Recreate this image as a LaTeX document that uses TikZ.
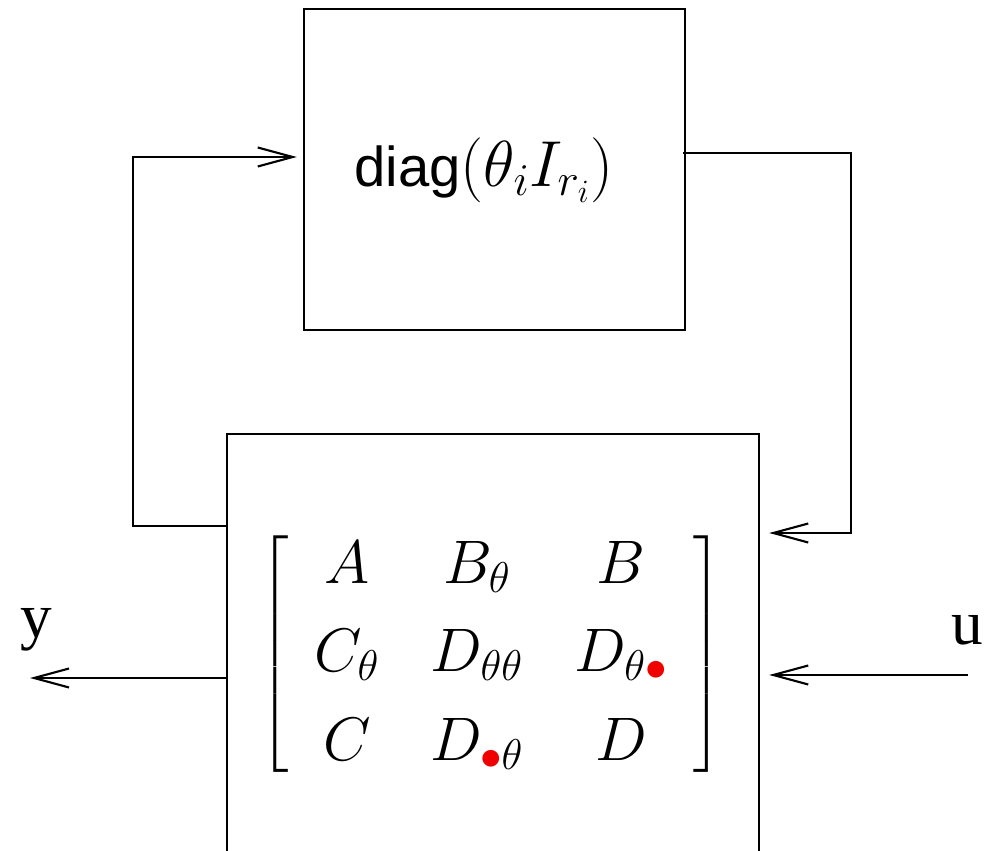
\RequirePackage{fix-cm}
\documentclass[tikz,border=0pt]{standalone}
\usepackage{exscale}
\usepackage{fontspec}
\usepackage{xcolor}
\usetikzlibrary{arrows.meta}
\newfontfamily\labelfont{Liberation Serif}
\newfontfamily\blocksans{Liberation Sans}
\definecolor{ink}{HTML}{000000}
\definecolor{dotRed}{HTML}{F00000}
\tikzset{
    blockbox/.style={
        draw=ink,
        line width=1.4pt,
        inner sep=0pt
    },
    signal/.style={
        -{Straight Barb[length=0.7cm, width=0.38cm]},
        draw=ink,
        line width=1.2pt
    },
    portlabel/.style={
        font=\labelfont\fontsize{36}{40}\selectfont,
        text=ink
    },
    blocklabel/.style={
        font=\fontsize{35}{40}\selectfont,
        text=ink
    }
}
\newcommand{\rdot}{{\color{dotRed}\bullet}}

\begin{document}
\begin{tikzpicture}[x=0.02cm,y=-0.02cm]
    \useasboundingbox (0,0) rectangle (985,851);
    \clip (0,0) rectangle (985,851);

    % Uncertainty block
    \node[blockbox, minimum width=381*0.02cm, minimum height=321*0.02cm]
        (delta) at (494.5,169.5) {};
    \node[blocklabel, font=\fontsize{37}{42}\selectfont] (deltatext) at (484,170)
        {{\blocksans\fontsize{32}{38}\selectfont diag}$(\theta_i I_{r_i})$};

    % Plant block, running past the lower edge
    \node[blockbox, minimum width=532*0.02cm, minimum height=520*0.02cm]
        (plant) at (493,694) {};
    \node[blocklabel, font=\fontsize{35}{50.5}\selectfont] (mat) at (491,654)
        {$\delimiterfactor=800 \delimitershortfall=40pt
        \setlength{\arraycolsep}{14.5pt}
        \left[\begin{array}{ccc}
            A & B_\theta & B\\
            C_\theta & D_{\theta\theta} & D_{\theta\rdot}\\
            C & D_{\rdot\theta} & D
        \end{array}\right]$};

    % Free ends of the outer signals
    \coordinate (yout) at (30,678);
    \coordinate (uin) at (968,675);
    \coordinate (fbL) at (133,526);
    \coordinate (fbR) at (851,533);

    % Feedback loop
    \draw[signal, shorten >=0.12cm] (plant.west |- fbL) -- (fbL) |- (delta.west |- 0,157);
    \draw[signal, shorten >=0.18cm] ([xshift=-0.06cm]delta.east |- 0,153) -| (fbR)
        -- (plant.east |- fbR);

    % Outer signals
    \draw[signal] (plant.west |- yout) -- (yout);
    \draw[signal, shorten >=0.18cm] (uin) -- (plant.east |- uin);

    % Labels
    \node[portlabel] (ylabel) at (36,630) {y};
    \node[portlabel] (ulabel) at (967,630) {u};

\end{tikzpicture}
\end{document}
